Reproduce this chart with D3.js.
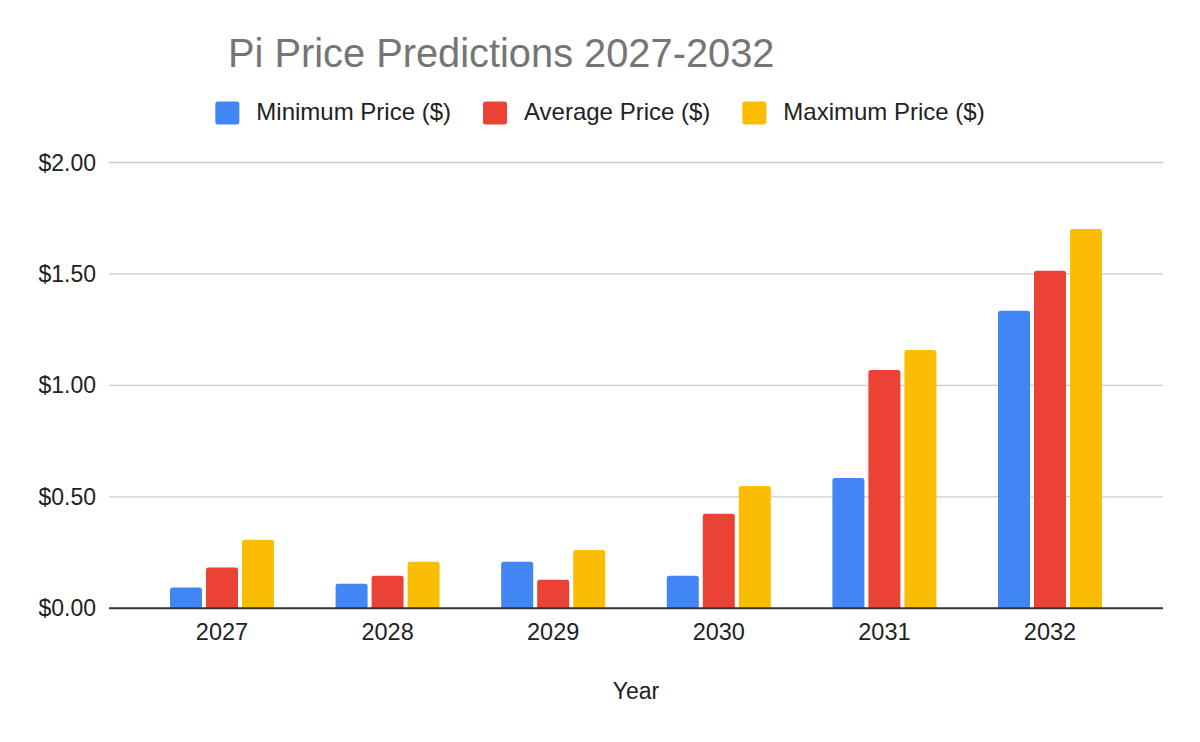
<!DOCTYPE html>
<html>
<head>
<meta charset="utf-8">
<script src="https://cdn.jsdelivr.net/npm/d3@7"></script>
<style>
  html, body { margin: 0; padding: 0; background: #fff; }
  svg { display: block; font-family: "Liberation Sans", Arial, sans-serif; }
</style>
</head>
<body>
<svg id="chart" width="1200" height="742"></svg>
<script>
const years = ['2027', '2028', '2029', '2030', '2031', '2032'];
const seriesNames = ['Minimum Price ($)', 'Average Price ($)', 'Maximum Price ($)'];
const minPrice = [0.093, 0.110, 0.209, 0.146, 0.585, 1.335];
const avgPrice = [0.183, 0.146, 0.128, 0.424, 1.069, 1.514];
const maxPrice = [0.307, 0.209, 0.262, 0.549, 1.159, 1.702];
const yTicks = [0, 0.5, 1, 1.5, 2];
const colors = ['#4285f4', '#ea4335', '#fbbc04'];

const svg = d3.select('#chart');
const width = 1200;

const plotLeft = 109, plotRight = 1163;
const y = d3.scaleLinear().domain([0, 2]).range([608.3, 162.5]);

// outer bands for years, inner bands for the three series
const x = d3.scaleBand()
  .domain(years)
  .range([139.2, 1132.8])
  .paddingInner(0.372)
  .paddingOuter(0.186);

const xInner = d3.scaleBand()
  .domain(d3.range(3))
  .range([0, x.bandwidth()])
  .paddingInner(4 / 36);

const series = [minPrice, avgPrice, maxPrice];

// gridlines
svg.append('g')
  .selectAll('line')
  .data(yTicks.filter(d => d > 0))
  .join('line')
  .attr('x1', plotLeft)
  .attr('x2', plotRight)
  .attr('y1', d => y(d))
  .attr('y2', d => y(d))
  .attr('stroke', '#cccccc')
  .attr('stroke-width', 1.3);

// y axis labels
svg.append('g')
  .selectAll('text')
  .data(yTicks)
  .join('text')
  .attr('x', 96)
  .attr('y', d => y(d))
  .attr('dy', '0.35em')
  .attr('text-anchor', 'end')
  .attr('font-size', 23)
  .attr('fill', '#222')
  .text(d => '$' + d3.format('.2f')(d));

// bars with slightly rounded tops
const r = 2.5;
function barPath(x0, w, yTop, yBase) {
  const h = yBase - yTop;
  const rr = Math.min(r, h / 2, w / 2);
  return `M${x0},${yBase}V${yTop + rr}Q${x0},${yTop} ${x0 + rr},${yTop}` +
    `H${x0 + w - rr}Q${x0 + w},${yTop} ${x0 + w},${yTop + rr}V${yBase}Z`;
}

const groups = svg.append('g')
  .selectAll('g')
  .data(years)
  .join('g')
  .attr('transform', d => `translate(${x(d)},0)`);

groups.selectAll('path')
  .data((d, i) => series.map((s, k) => ({ k, v: s[i] })))
  .join('path')
  .attr('fill', d => colors[d.k])
  .attr('d', d => barPath(xInner(d.k), xInner.bandwidth(), y(d.v), y(0)));

// baseline
svg.append('line')
  .attr('x1', plotLeft)
  .attr('x2', plotRight)
  .attr('y1', y(0))
  .attr('y2', y(0))
  .attr('stroke', '#333')
  .attr('stroke-width', 2);

// x axis labels
svg.append('g')
  .selectAll('text')
  .data(years)
  .join('text')
  .attr('x', d => x(d) + x.bandwidth() / 2)
  .attr('y', 640)
  .attr('text-anchor', 'middle')
  .attr('font-size', 23.5)
  .attr('fill', '#222')
  .text(d => d);

// x axis title
svg.append('text')
  .attr('x', 636)
  .attr('y', 699)
  .attr('text-anchor', 'middle')
  .attr('font-size', 23)
  .attr('fill', '#222')
  .text('Year');

// title
svg.append('text')
  .attr('x', 228)
  .attr('y', 67)
  .attr('font-size', 39.8)
  .attr('fill', '#757575')
  .text('Pi Price Predictions 2027-2032');

// legend
const legend = svg.append('g');
let cursor = 0;
seriesNames.forEach((name, k) => {
  const item = legend.append('g').attr('transform', `translate(${cursor},0)`);
  item.append('rect')
    .attr('x', 0).attr('y', 101.5)
    .attr('width', 24).attr('height', 23)
    .attr('rx', 2.5)
    .attr('fill', colors[k]);
  const t = item.append('text')
    .attr('x', 41)
    .attr('y', 120)
    .attr('font-size', 24)
    .attr('fill', '#222')
    .text(name);
  cursor += 41 + t.node().getComputedTextLength() + 32;
});
const legendWidth = cursor - 32;
legend.attr('transform', `translate(${(width - legendWidth) / 2},0)`);
</script>
</body>
</html>
